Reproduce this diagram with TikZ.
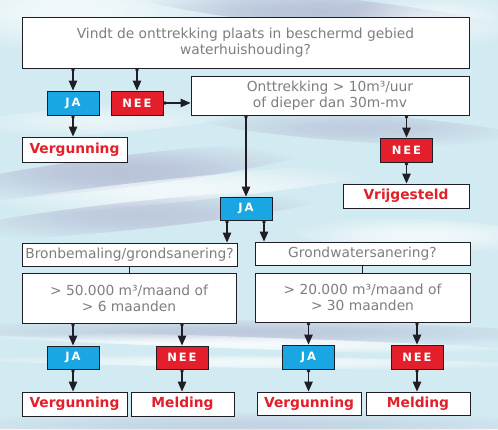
\documentclass[tikz,border=0pt]{standalone}
\usepackage{fontspec}
\setmainfont{DejaVu Sans}
\usetikzlibrary{arrows.meta,fadings}
\pgfdeclareradialshading{softglowshade}{\pgfpointorigin}{color(0bp)=(pgftransparent!0); color(8bp)=(pgftransparent!15); color(25bp)=(pgftransparent!100); color(50bp)=(pgftransparent!100)}
\pgfdeclarefading{softglow}{\pgfuseshading{softglowshade}}
\definecolor{bgc}{HTML}{D2EAF1}
\definecolor{lav}{HTML}{A9A8C8}
\definecolor{jablue}{HTML}{1AA6E2}
\definecolor{neered}{HTML}{E21F2A}
\definecolor{qgray}{HTML}{7E7E7E}
\definecolor{edge}{HTML}{1E1E24}
\tikzset{
  qbox/.style={draw=edge, line width=0.9pt, fill=white, inner sep=0pt, align=center,
    text=qgray, font=\fontsize{13.8}{16}\selectfont},
  rbox/.style={draw=edge, line width=0.9pt, fill=white, inner sep=0pt,
    text=neered, font=\fontsize{13.8}{15}\selectfont\bfseries},
  jabox/.style={draw=edge, line width=0.9pt, fill=jablue, inner sep=0pt, text=white,
    minimum width=52pt, minimum height=24pt,
    font=\fontsize{11.5}{12}\selectfont\bfseries\addfontfeature{LetterSpace=16}},
  neebox/.style={jabox, fill=neered},
  arr/.style={draw=edge, line width=1.2pt, {Circle[length=3.2pt]}-{Triangle[length=10pt,width=8.5pt]}},
  ln/.style={draw=edge, line width=1.2pt},
  glow/.style={path fading=softglow},
}
\begin{document}
\begin{tikzpicture}[x=1pt,y=-1pt]
\useasboundingbox (0,0) rectangle (498,429);
% background
\fill[bgc] (0,0) rectangle (498,429);
\begin{scope}
\clip (0,0) rectangle (498,429);
\fill[white, glow, fill opacity=0.7] (70,10) ellipse [x radius=170, y radius=45];
\fill[lav, glow, fill opacity=0.6, rotate around={-6:(320,12)}] (320,12) ellipse [x radius=200, y radius=16];
\fill[white, glow, fill opacity=0.6] (440,20) ellipse [x radius=90, y radius=30];
\fill[lav, glow, fill opacity=0.6, rotate around={7:(120,172)}] (120,172) ellipse [x radius=200, y radius=16];
\fill[white, glow, fill opacity=0.7, rotate around={6:(180,190)}] (180,190) ellipse [x radius=230, y radius=12];
\fill[lav, glow, fill opacity=0.5, rotate around={6:(140,215)}] (140,215) ellipse [x radius=200, y radius=14];
\fill[lav, glow, fill opacity=0.45, rotate around={-4:(360,128)}] (360,128) ellipse [x radius=170, y radius=14];
\fill[white, glow, fill opacity=0.7, rotate around={-3:(420,235)}] (420,235) ellipse [x radius=140, y radius=16];
\fill[white, glow, fill opacity=0.5, rotate around={4:(100,120)}] (100,120) ellipse [x radius=150, y radius=14];
\fill[lav, glow, fill opacity=0.5, rotate around={-1:(250,332)}] (250,332) ellipse [x radius=330, y radius=12];
\fill[white, glow, fill opacity=0.85, rotate around={-2:(250,343)}] (250,343) ellipse [x radius=330, y radius=6];
\fill[white, glow, fill opacity=0.7, rotate around={-1:(250,362)}] (250,362) ellipse [x radius=330, y radius=6];
\fill[lav, glow, fill opacity=0.35] (250,425) ellipse [x radius=320, y radius=14];
\end{scope}

% nodes
\node[qbox, minimum width=447pt, minimum height=51pt] (top) at (245.5,42.5)
  {Vindt de onttrekking plaats in beschermd gebied\\waterhuishouding?};
\node[jabox] (ja1) at (73,103) {JA};
\node[neebox] (nee1) at (137,103) {NEE};
\node[qbox, minimum width=278pt, minimum height=39pt] (q2) at (330,95.5)
  {Onttrekking > 10m³/uur\\of dieper dan 30m-mv};
\node[rbox, minimum width=105pt, minimum height=25pt] (verg1) at (74.5,149.5) {Vergunning};
\node[neebox] (nee2) at (406.5,150) {NEE};
\node[rbox, minimum width=126pt, minimum height=24pt] (vrij) at (406,196) {Vrijgesteld};
\node[jabox, minimum height=23pt] (ja2) at (246,208.5) {JA};
\node[qbox, minimum width=215pt, minimum height=23pt] (bron) at (129.5,254.5) {Bronbemaling/grondsanering?};
\node[qbox, minimum width=215pt, minimum height=23pt] (grond) at (362.5,253.5) {Grondwatersanering?};
\node[qbox, minimum width=214pt, minimum height=50pt] (q50) at (129,298)
  {> 50.000 m³/maand of\\> 6 maanden};
\node[qbox, minimum width=215pt, minimum height=49pt] (q20) at (362.5,297.5)
  {> 20.000 m³/maand of\\> 30 maanden};
\node[jabox, minimum height=23pt] (ja3) at (73,357.5) {JA};
\node[neebox, minimum height=23pt] (nee3) at (182,357.5) {NEE};
\node[jabox] (ja4) at (308.5,357) {JA};
\node[neebox] (nee4) at (417,357) {NEE};
\node[rbox, minimum width=105pt, minimum height=24pt] (verg3) at (74.5,404) {Vergunning};
\node[rbox, minimum width=103pt, minimum height=24pt] (meld3) at (182.5,404) {Melding};
\node[rbox, minimum width=104pt, minimum height=23pt] (verg4) at (309,403.5) {Vergunning};
\node[rbox, minimum width=104pt, minimum height=23pt] (meld4) at (418,403.5) {Melding};

% connectors
\draw[arr] (top.south -| ja1.north) -- (ja1.north);
\draw[arr] (top.south -| nee1.north) -- (nee1.north);
\draw[arr] (ja1.south) -- (verg1.north -| ja1.south);
\draw[arr] (nee1.east) -- (q2.west |- nee1.east);
\draw[arr] (q2.south -| ja2.north) -- (ja2.north);
\draw[arr] (q2.south -| nee2.north) -- (nee2.north);
\draw[arr] (nee2.south) -- (vrij.north -| nee2.south);
\coordinate (jl) at ([xshift=-19pt]ja2.south);
\coordinate (jr) at ([xshift=18pt]ja2.south);
\draw[arr] (jl) -- (bron.north -| jl);
\draw[arr] (jr) -- (grond.north -| jr);
\draw[ln] (bron.south) -- (q50.north -| bron.south);
\draw[ln] (grond.south) -- (q20.north -| grond.south);
\draw[arr] (q50.south -| ja3.north) -- (ja3.north);
\draw[arr] (q50.south -| nee3.north) -- (nee3.north);
\draw[arr] (q20.south -| ja4.north) -- (ja4.north);
\draw[arr] (q20.south -| nee4.north) -- (nee4.north);
\draw[arr] (ja3.south) -- (verg3.north -| ja3.south);
\draw[arr] (nee3.south) -- (meld3.north -| nee3.south);
\draw[arr] (ja4.south) -- (verg4.north -| ja4.south);
\draw[arr] (nee4.south) -- (meld4.north -| nee4.south);
\end{tikzpicture}
\end{document}
